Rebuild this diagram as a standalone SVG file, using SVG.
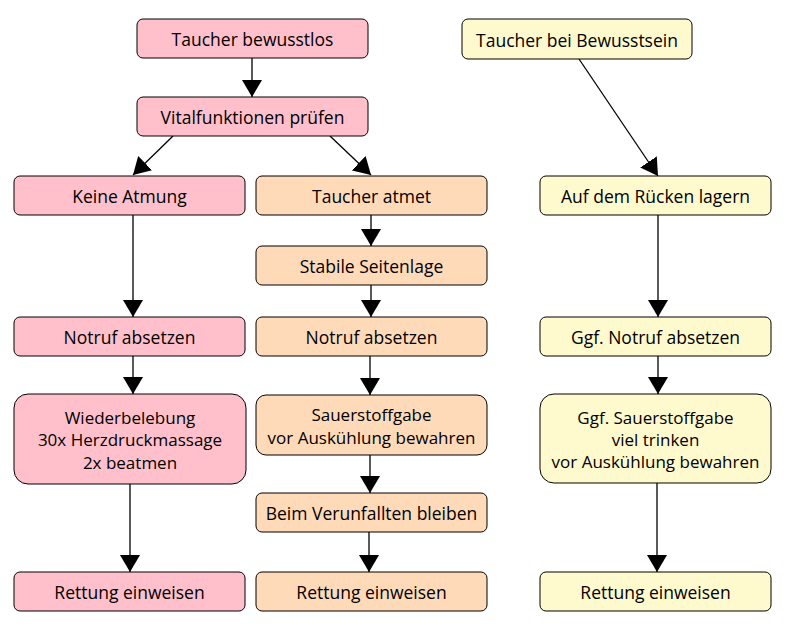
<svg xmlns="http://www.w3.org/2000/svg" width="787" height="631" viewBox="0 0 787 631">
<style>
.n rect{stroke:#000;stroke-width:1}
.p rect{fill:#FFC0CB}
.o rect{fill:#FFDAB9}
.y rect{fill:#FFFACD}
text{font-family:"Open Sans","DejaVu Sans",sans-serif;font-size:17.5px;fill:#000;text-anchor:middle;dominant-baseline:central}
.m text{font-size:17px}
#edges line{stroke:#000;stroke-width:1.3}
</style>
<defs>
<marker id="ah" markerWidth="20" markerHeight="20" refX="17" refY="10" orient="auto" markerUnits="userSpaceOnUse">
<path d="M0,0 L17,10 L0,20 Z" fill="#000"/>
</marker>
</defs>
<rect width="787" height="631" fill="#fff"/>
<g id="edges">
<line x1="252" y1="58" x2="252" y2="97" marker-end="url(#ah)"/>
<line x1="173" y1="136" x2="133" y2="175" marker-end="url(#ah)"/>
<line x1="330" y1="136" x2="371" y2="175" marker-end="url(#ah)"/>
<line x1="133" y1="215" x2="133" y2="317" marker-end="url(#ah)"/>
<line x1="133" y1="356" x2="133" y2="394" marker-end="url(#ah)"/>
<line x1="130" y1="484" x2="130" y2="572" marker-end="url(#ah)"/>
<line x1="371" y1="215" x2="371" y2="246" marker-end="url(#ah)"/>
<line x1="371" y1="285" x2="371" y2="317" marker-end="url(#ah)"/>
<line x1="370" y1="356" x2="370" y2="395" marker-end="url(#ah)"/>
<line x1="370" y1="455" x2="370" y2="493" marker-end="url(#ah)"/>
<line x1="369" y1="532" x2="369" y2="572" marker-end="url(#ah)"/>
<line x1="579" y1="59" x2="658" y2="176" marker-end="url(#ah)"/>
<line x1="658" y1="215" x2="658" y2="317" marker-end="url(#ah)"/>
<line x1="658" y1="356" x2="658" y2="394" marker-end="url(#ah)"/>
<line x1="657" y1="483" x2="657" y2="572" marker-end="url(#ah)"/>
</g>
<g id="n1" class="n p"><rect x="137" y="19" width="231" height="39" rx="6"/><text x="252.5" y="39">Taucher bewusstlos</text></g>
<g id="n2" class="n p"><rect x="137" y="97" width="231" height="39" rx="6"/><text x="252.5" y="117">Vitalfunktionen prüfen</text></g>
<g id="n3" class="n p"><rect x="14" y="176" width="231" height="39" rx="6"/><text x="129.5" y="196">Keine Atmung</text></g>
<g id="n4" class="n p"><rect x="14" y="317" width="231" height="39" rx="6"/><text x="129.5" y="337">Notruf absetzen</text></g>
<g id="n5" class="n p m"><rect x="14" y="394" width="232" height="90" rx="14"/><text x="130" y="417">Wiederbelebung</text><text x="130" y="439.5">30x Herzdruckmassage</text><text x="130" y="462">2x beatmen</text></g>
<g id="n6" class="n p"><rect x="14" y="572" width="231" height="39" rx="6"/><text x="129.5" y="592">Rettung einweisen</text></g>
<g id="n7" class="n o"><rect x="256" y="176" width="231" height="39" rx="6"/><text x="371.5" y="196">Taucher atmet</text></g>
<g id="n8" class="n o"><rect x="256" y="246" width="231" height="39" rx="6"/><text x="371.5" y="266">Stabile Seitenlage</text></g>
<g id="n9" class="n o"><rect x="256" y="317" width="231" height="39" rx="6"/><text x="371.5" y="337">Notruf absetzen</text></g>
<g id="n10" class="n o m"><rect x="256" y="395" width="231" height="60" rx="10"/><text x="371.5" y="414">Sauerstoffgabe</text><text x="371.5" y="437">vor Auskühlung bewahren</text></g>
<g id="n11" class="n o"><rect x="256" y="493" width="231" height="39" rx="6"/><text x="371.5" y="513">Beim Verunfallten bleiben</text></g>
<g id="n12" class="n o"><rect x="256" y="572" width="231" height="39" rx="6"/><text x="371.5" y="592">Rettung einweisen</text></g>
<g id="n13" class="n y"><rect x="462" y="19" width="230" height="40" rx="6"/><text x="577" y="40">Taucher bei Bewusstsein</text></g>
<g id="n14" class="n y"><rect x="540" y="176" width="231" height="39" rx="6"/><text x="655.5" y="196">Auf dem Rücken lagern</text></g>
<g id="n15" class="n y"><rect x="540" y="317" width="231" height="39" rx="6"/><text x="655.5" y="337">Ggf. Notruf absetzen</text></g>
<g id="n16" class="n y m"><rect x="540" y="394" width="231" height="89" rx="14"/><text x="655.5" y="417">Ggf. Sauerstoffgabe</text><text x="655.5" y="439">viel trinken</text><text x="655.5" y="461">vor Auskühlung bewahren</text></g>
<g id="n17" class="n y"><rect x="540" y="572" width="231" height="39" rx="6"/><text x="655.5" y="592">Rettung einweisen</text></g>
</svg>
